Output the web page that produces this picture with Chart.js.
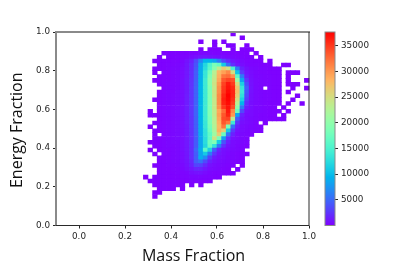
<!DOCTYPE html>
<html><head><meta charset="utf-8">
<script src="https://cdn.jsdelivr.net/npm/chart.js@4"></script>
<style>
html,body{margin:0;padding:0;background:#fff;width:415px;height:277px;overflow:hidden}
canvas{position:absolute;filter:blur(0.35px)}
#heat{left:0;top:0}
#bar{left:315px;top:0}
</style></head><body>
<canvas id="heat" width="415" height="277"></canvas>
<canvas id="bar" width="100" height="277"></canvas>
<script>
const xTitle = 'Mass Fraction';
const yTitle = 'Energy Fraction';
const xTickValues = [0, 0.2, 0.4, 0.6, 0.8, 1.0];
const yTickValues = [0, 0.2, 0.4, 0.6, 0.8, 1.0];
const colorTickValues = [5000, 10000, 15000, 20000, 25000, 30000, 35000];
const colorMin = 1;
const colorMax = 37700;
const unitCount = 100; // cell values below are in hundreds of counts
const binWidth = 0.02;
const massBinCentres = [0.29,0.31,0.33,0.35,0.37,0.39,0.41,0.43,0.45,0.47,0.49,0.51,0.53,0.55,0.57,0.59,0.61,0.63,0.65,0.67,0.69,0.71,0.73,0.75,0.77,0.79,0.81,0.83,0.85,0.87,0.89,0.91,0.93,0.95,0.97,0.99];
const energyBinCentres = [0.99,0.97,0.95,0.93,0.91,0.89,0.87,0.85,0.83,0.81,0.79,0.77,0.75,0.73,0.71,0.69,0.67,0.65,0.63,0.61,0.59,0.57,0.55,0.53,0.51,0.49,0.47,0.45,0.43,0.41,0.39,0.37,0.35,0.33,0.31,0.29,0.27,0.25,0.23,0.21,0.19,0.17,0.15];
const r00=[0,0,0,0,0,0,0,0,0,0,0,0,0,0,0,0,0,0,0,1,0,0,0,0,0,0,0,0,0,0,0,0,0,0,0,0];
const r01=[0,0,0,0,0,0,0,0,0,0,0,0,0,0,0,0,0,0,0,0,0,1,0,0,0,0,0,0,0,0,0,0,0,0,0,0];
const r02=[0,0,0,0,0,0,0,0,0,0,0,0,1,0,0,1,0,1,0,0,0,0,0,0,0,0,0,0,0,0,0,0,0,0,0,0];
const r03=[0,0,0,0,0,0,0,0,0,0,0,0,0,0,0,1,0,0,1,1,0,0,1,0,0,0,0,0,0,0,0,0,0,0,0,0];
const r04=[0,0,0,0,0,0,0,0,0,0,0,0,1,0,1,1,1,0,0,1,0,1,1,1,0,0,0,0,0,0,0,0,0,0,0,0];
const r05=[0,0,0,0,1,1,1,1,1,1,2,2,3,3,3,2,2,2,1,1,1,1,1,0,1,0,0,0,0,0,0,0,0,0,0,0];
const r06=[0,0,0,1,0,1,1,2,2,3,5,8,10,10,8,7,6,5,4,3,2,2,1,1,0,1,0,0,0,0,0,0,0,0,0,0];
const r07=[0,0,1,1,1,1,2,2,3,8,15,35,65,95,95,85,60,35,20,10,6,4,2,2,1,1,0,1,0,0,0,0,0,0,0,0];
const r08=[0,0,0,1,1,2,2,3,4,10,20,40,85,120,155,185,170,110,55,22,10,6,3,2,2,1,1,1,0,0,1,1,0,0,0,0];
const r09=[0,0,1,1,1,2,3,3,5,10,20,42,88,125,160,195,235,265,245,150,60,15,7,4,3,2,2,1,1,1,0,0,0,0,0,0];
const r10=[0,0,1,0,2,2,3,4,5,11,22,45,90,135,180,230,280,295,310,250,105,28,10,5,3,2,2,1,1,1,0,1,1,1,0,0];
const r11=[0,0,0,1,2,2,3,4,5,11,22,45,90,135,190,235,285,320,325,305,165,60,14,6,3,3,2,2,1,1,0,1,0,0,0,0];
const r12=[0,0,1,1,2,2,3,4,6,12,23,46,92,140,195,240,290,335,345,340,210,85,25,7,4,3,2,2,1,1,0,1,0,0,0,1];
const r13=[0,0,0,1,2,3,3,4,6,12,24,47,94,140,195,245,300,345,365,350,250,115,35,8,4,3,2,2,1,1,0,1,1,1,0,0];
const r14=[0,0,0,0,2,3,3,4,6,12,25,48,95,140,190,240,305,350,368,358,270,135,45,9,4,3,0,2,1,1,0,0,1,0,0,1];
const r15=[0,0,0,1,2,3,3,5,6,12,25,48,95,140,190,245,305,352,372,360,275,140,40,8,4,3,2,2,1,1,0,1,0,0,0,0];
const r16=[0,0,0,1,2,3,4,5,6,13,25,48,95,140,190,245,310,358,377,360,265,130,35,7,4,3,2,2,1,1,0,0,0,1,0,0];
const r17=[0,0,1,1,2,3,4,5,6,13,25,48,95,140,190,240,310,362,375,355,250,115,28,7,4,3,2,2,1,1,0,0,1,0,0,0];
const r18=[0,0,0,1,2,3,4,5,6,13,25,48,95,140,190,240,310,360,372,350,230,95,20,6,4,3,2,1,1,1,0,1,0,0,1,0];
const r19=[0,0,0,1,2,3,4,5,7,13,25,48,95,140,190,240,305,350,368,340,200,60,12,6,3,3,2,1,1,0,1,0,0,0,0,0];
const r20=[0,1,0,1,2,3,4,5,7,13,25,48,95,140,190,235,290,325,365,310,175,35,8,5,3,3,2,1,1,1,0,1,0,0,0,0];
const r21=[0,1,1,1,2,3,4,5,7,13,25,48,95,140,190,235,295,335,360,300,85,15,5,5,3,2,2,1,1,0,1,0,0,0,0,0];
const r22=[0,0,0,1,2,3,4,5,7,13,24,47,95,140,185,230,290,340,345,235,45,10,5,4,3,2,2,1,1,1,1,0,0,0,0,0];
const r23=[0,0,1,1,2,3,4,5,7,13,24,46,92,135,185,230,285,335,320,140,25,7,5,4,2,0,1,0,0,0,0,0,0,0,0,0];
const r24=[0,1,0,1,2,3,4,5,7,12,24,46,90,135,180,225,280,320,185,55,14,5,4,3,2,1,0,0,0,0,0,0,0,0,0,0];
const r25=[0,0,1,1,2,3,4,5,6,12,23,45,90,130,175,220,285,265,110,28,8,5,3,3,2,1,0,0,0,0,0,0,0,0,0,0];
const r26=[0,0,1,0,2,3,4,5,6,12,23,45,88,130,165,210,265,175,55,15,5,4,3,2,0,0,0,0,0,0,0,0,0,0,0,0];
const r27=[0,0,1,1,2,3,4,5,6,12,22,44,86,125,165,245,185,80,25,8,5,3,2,0,0,0,0,0,0,0,0,0,0,0,0,0];
const r28=[0,1,1,1,2,3,4,4,6,11,22,44,85,125,175,190,110,40,14,5,4,3,2,0,0,0,0,0,0,0,0,0,0,0,0,0];
const r29=[0,0,1,1,2,3,3,4,6,11,22,44,85,120,170,130,60,22,8,5,3,2,1,0,0,0,0,0,0,0,0,0,0,0,0,0];
const r30=[0,1,0,1,2,2,3,4,6,11,22,50,90,160,115,45,15,7,5,4,3,2,0,0,0,0,0,0,0,0,0,0,0,0,0,0];
const r31=[0,0,1,0,2,2,3,4,5,10,22,45,85,110,60,25,10,6,4,3,2,1,1,0,0,0,0,0,0,0,0,0,0,0,0,0];
const r32=[0,0,0,1,1,2,3,4,5,10,22,45,90,70,30,12,7,5,3,3,2,1,0,0,0,0,0,0,0,0,0,0,0,0,0,0];
const r33=[0,0,0,1,1,2,3,3,5,9,18,45,55,35,15,8,5,4,3,2,1,1,0,0,0,0,0,0,0,0,0,0,0,0,0,0];
const r34=[0,0,1,1,1,2,2,3,4,8,15,32,30,18,8,5,4,3,2,1,0,1,0,0,0,0,0,0,0,0,0,0,0,0,0,0];
const r35=[0,0,0,1,1,1,2,2,3,6,10,16,16,10,5,4,3,2,1,0,1,0,0,0,0,0,0,0,0,0,0,0,0,0,0,0];
const r36=[0,0,0,1,1,1,1,2,2,3,6,8,8,5,3,2,2,1,1,1,0,0,0,0,0,0,0,0,0,0,0,0,0,0,0,0];
const r37=[1,0,1,1,1,1,1,1,2,2,3,3,3,2,2,1,1,0,0,0,0,0,0,0,0,0,0,0,0,0,0,0,0,0,0,0];
const r38=[0,1,1,1,1,1,1,1,1,1,2,2,1,1,1,0,0,0,0,0,0,0,0,0,0,0,0,0,0,0,0,0,0,0,0,0];
const r39=[0,0,1,1,1,1,1,1,1,0,1,0,1,0,0,0,0,0,0,0,0,0,0,0,0,0,0,0,0,0,0,0,0,0,0,0];
const r40=[0,0,0,1,1,1,1,0,1,0,0,0,0,0,0,0,0,0,0,0,0,0,0,0,0,0,0,0,0,0,0,0,0,0,0,0];
const r41=[0,0,1,1,0,0,0,0,0,0,0,0,0,0,0,0,0,0,0,0,0,0,0,0,0,0,0,0,0,0,0,0,0,0,0,0];
const r42=[0,0,1,0,0,0,0,0,0,0,0,0,0,0,0,0,0,0,0,0,0,0,0,0,0,0,0,0,0,0,0,0,0,0,0,0];
const gridRows=[r00,r01,r02,r03,r04,r05,r06,r07,r08,r09,r10,r11,r12,r13,r14,r15,r16,r17,r18,r19,r20,r21,r22,r23,r24,r25,r26,r27,r28,r29,r30,r31,r32,r33,r34,r35,r36,r37,r38,r39,r40,r41,r42];

function rainbow(t){
  t=Math.max(0,Math.min(1,t));
  const r=Math.min(1,Math.abs(2*t-0.5)), g=Math.sin(Math.PI*t), b=Math.cos(Math.PI*t/2);
  return `rgb(${Math.round(r*255)},${Math.round(g*255)},${Math.round(b*255)})`;
}
const tFor=v=>(v-colorMin)/(colorMax-colorMin);

const cells=[];
gridRows.forEach((row,j)=>row.forEach((v,i)=>{
  if(v>0) cells.push({x:massBinCentres[i],y:[energyBinCentres[j]-binWidth/2,energyBinCentres[j]+binWidth/2],v:v*unitCount});
}));

const tickFont={family:'"DejaVu Sans"',size:8.8};
const tickColor='#262626';
const titleFont={family:'"Open Sans"',size:16};

const framePlugin={id:'frame',
  beforeDraw(c){
    // the axis titles sit off the centre of the plot, as in the reference
    c.scales.x.right=c.chartArea.right+22;
    c.scales.y.bottom=c.chartArea.bottom+3;
  },
  afterDraw(c){
  const a=c.chartArea,g=c.ctx;
  g.save();
  g.strokeStyle='#8a8a8a';g.lineWidth=2;
  g.beginPath();g.moveTo(a.left-1,a.top);g.lineTo(a.right+1,a.top);g.moveTo(a.left,a.top);g.lineTo(a.left,a.bottom);g.stroke();
  g.strokeStyle='#2a2a2a';g.lineWidth=1;
  g.beginPath();g.moveTo(a.left,a.bottom);g.lineTo(a.right+0.5,a.bottom);g.moveTo(a.right,a.top);g.lineTo(a.right,a.bottom);g.stroke();
  g.restore();
}};

new Chart(document.getElementById('heat'),{
  type:'bar',
  data:{datasets:[{data:cells,grouped:false,barPercentage:1,categoryPercentage:1,borderWidth:0,borderSkipped:false,
    backgroundColor:ctx=>ctx.raw?rainbow(tFor(ctx.raw.v)):'#fff'}]},
  plugins:[framePlugin],
  options:{responsive:false,animation:false,events:[],
    layout:{padding:{left:0,top:32,right:106,bottom:0}},
    plugins:{legend:{display:false},tooltip:{enabled:false}},
    scales:{
      x:{type:'linear',offset:false,min:-0.1,max:1.0,
        afterBuildTicks:s=>{s.ticks=xTickValues.map(value=>({value}));},
        afterFit:s=>{s.height=51.5;},
        grid:{display:true,drawOnChartArea:false,drawTicks:true,tickLength:3,color:'#262626',offset:false},
        border:{display:false},
        ticks:{color:tickColor,font:tickFont,padding:3,maxRotation:0,autoSkip:false,callback:v=>v.toFixed(1)},
        title:{display:true,text:xTitle,color:'#111',font:titleFont,padding:{top:0,bottom:11}}},
      y:{type:'linear',min:0,max:1.0,
        afterBuildTicks:s=>{s.ticks=yTickValues.map(value=>({value}));},
        afterFit:s=>{s.width=56;},
        grid:{display:true,drawOnChartArea:false,drawTicks:true,tickLength:3,color:'#262626'},
        border:{display:false},
        ticks:{color:tickColor,font:tickFont,padding:3,autoSkip:false,callback:v=>v.toFixed(1)},
        title:{display:true,text:yTitle,color:'#111',font:titleFont,padding:{top:8,bottom:0}}}
    }}
});

const barFrame={id:'barFrame',afterDraw(c){
  const a=c.chartArea,g=c.ctx;
  g.save();g.strokeStyle='#8a8a8a';g.lineWidth=1;
  g.strokeRect(a.left,a.top,a.right-a.left,a.bottom-a.top);g.restore();
}};
const barColor=ctx=>{
  const a=ctx.chart.chartArea;
  if(!a) return '#8000ff';
  const grad=ctx.chart.ctx.createLinearGradient(0,a.bottom,0,a.top);
  for(let k=0;k<=40;k++) grad.addColorStop(k/40,rainbow(k/40));
  return grad;
};
new Chart(document.getElementById('bar'),{
  type:'bar',
  data:{labels:['counts'],datasets:[{data:[[colorMin,colorMax]],barPercentage:1,categoryPercentage:1,borderWidth:0,borderSkipped:false,backgroundColor:barColor}]},
  plugins:[barFrame],
  options:{responsive:false,animation:false,events:[],
    layout:{padding:{left:10,top:32,right:0,bottom:51.5}},
    plugins:{legend:{display:false},tooltip:{enabled:false}},
    scales:{
      x:{display:false},
      y:{type:'linear',position:'right',min:colorMin,max:colorMax,
        afterBuildTicks:s=>{s.ticks=colorTickValues.map(value=>({value}));},
        afterFit:s=>{s.width=80;},
        grid:{display:true,drawOnChartArea:false,drawTicks:true,tickLength:3,color:'#262626'},
        border:{display:false},
        ticks:{color:tickColor,font:tickFont,padding:3,autoSkip:false,callback:v=>String(v)}}
    }}
});
</script>
</body></html>
